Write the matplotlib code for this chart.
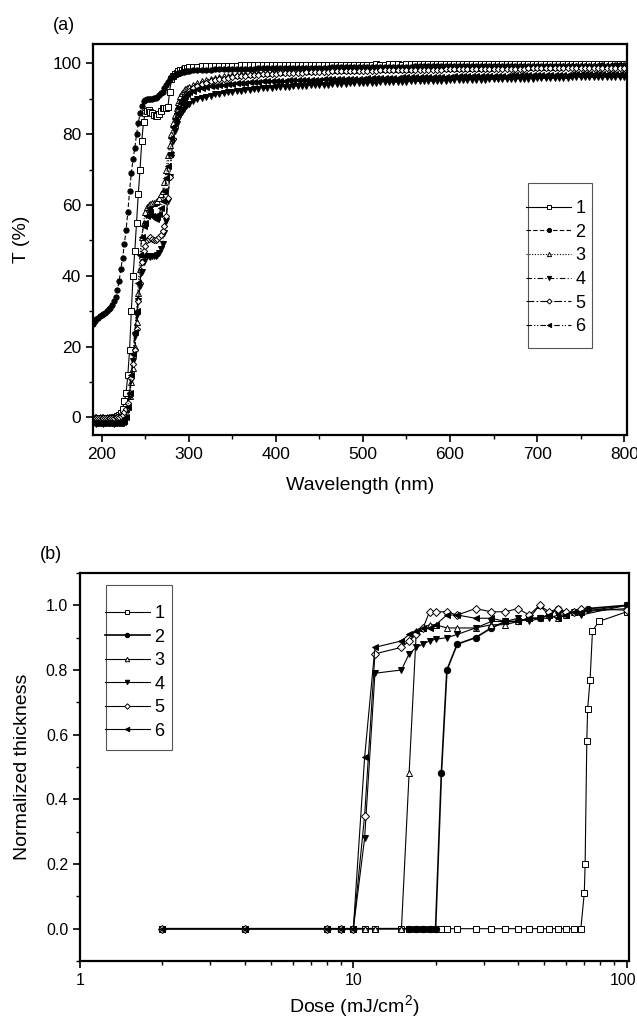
import matplotlib
matplotlib.use("Agg")
import matplotlib.pyplot as plt
import matplotlib.transforms as mtransforms
from matplotlib.patches import Rectangle
from matplotlib.ticker import MultipleLocator, LogLocator, NullFormatter, FixedLocator, FixedFormatter

plt.rcParams['font.family'] = ['Liberation Sans', 'DejaVu Sans']
plt.rcParams['mathtext.default'] = 'regular'

# ---- panel (a): transmission spectra ----
wl_low = [190, 192, 194, 196, 198, 200, 202, 204, 206, 208,
          210, 212, 214, 216, 218, 220, 222, 224, 226, 228,
          230, 232, 234, 236, 238, 240, 242, 244, 246, 248,
          250, 252, 254, 256, 258, 260, 262, 264, 266, 268,
          270, 272, 274, 276, 278, 280, 282, 284, 286, 288,
          290, 292, 294, 296, 298, 300]
wl_high = [305, 310, 315, 320, 325, 330, 335, 340, 345, 350,
           355, 360, 365, 370, 375, 380, 385, 390, 395, 400,
           405, 410, 415, 420, 425, 430, 435, 440, 445, 450,
           455, 460, 465, 470, 475, 480, 485, 490, 495, 500,
           505, 510, 515, 520, 525, 530, 535, 540, 545, 550,
           555, 560, 565, 570, 575, 580, 585, 590, 595, 600,
           605, 610, 615, 620, 625, 630, 635, 640, 645, 650,
           655, 660, 665, 670, 675, 680, 685, 690, 695, 700,
           705, 710, 715, 720, 725, 730, 735, 740, 745, 750,
           755, 760, 765, 770, 775, 780, 785, 790, 795, 800]

t1_low = [-0.3, -0.3, -0.3, -0.3, -0.3, -0.3, -0.2, -0.2, -0.2, -0.2,
          -0.2, -0.1, 0.0, 0.1, 0.3, 0.6, 1.2, 2.5, 4.5, 7.0,
          12.0, 19.0, 30.0, 40.0, 47.0, 55.0, 63.0, 70.0, 78.0, 83.5,
          86.0, 86.5, 86.7, 86.2, 86.0, 85.5, 85.2, 85.0, 85.8, 86.5,
          87.5, 87.5, 87.5, 87.6, 92.0, 95.5, 96.5, 97.0, 97.4, 97.7,
          98.0, 98.2, 98.4, 98.6, 98.8, 98.9]
t1_high = [99.0, 99.0, 99.1, 99.1, 99.2, 99.2, 99.2, 99.3, 99.3, 99.3,
           99.3, 99.4, 99.4, 99.4, 99.4, 99.4, 99.5, 99.5, 99.5, 99.5,
           99.5, 99.5, 99.5, 99.5, 99.6, 99.5, 99.5, 99.6, 99.6, 99.6,
           99.6, 99.6, 99.6, 99.6, 99.6, 99.6, 99.6, 99.6, 99.6, 99.6,
           99.6, 99.6, 99.7, 99.6, 99.6, 99.7, 99.7, 99.7, 99.6, 99.7,
           99.7, 99.7, 99.7, 99.7, 99.7, 99.7, 99.7, 99.7, 99.7, 99.7,
           99.7, 99.7, 99.7, 99.8, 99.7, 99.7, 99.7, 99.7, 99.8, 99.7,
           99.7, 99.8, 99.8, 99.7, 99.8, 99.8, 99.8, 99.8, 99.8, 99.8,
           99.8, 99.8, 99.8, 99.8, 99.8, 99.8, 99.8, 99.8, 99.9, 99.8,
           99.8, 99.8, 99.8, 99.9, 99.8, 99.8, 99.9, 99.8, 99.8, 99.9]

t2_low = [26.5, 27.2, 27.8, 28.2, 28.6, 29.0, 29.3, 29.6, 30.0, 30.5,
          31.0, 31.8, 33.0, 34.0, 36.0, 38.5, 42.0, 45.0, 49.0, 53.0,
          58.0, 64.0, 69.0, 73.0, 76.0, 80.0, 83.0, 86.0, 88.0, 89.3,
          89.6, 89.8, 89.9, 90.0, 90.0, 90.2, 90.3, 90.5, 91.0, 91.5,
          92.0, 93.0, 94.0, 94.8, 95.5, 96.0, 96.4, 96.7, 97.0, 97.2,
          97.4, 97.5, 97.6, 97.7, 97.8, 97.9]
t2_high = [98.0, 98.1, 98.1, 98.2, 98.2, 98.3, 98.3, 98.3, 98.4, 98.4,
           98.4, 98.5, 98.5, 98.5, 98.5, 98.6, 98.6, 98.6, 98.6, 98.6,
           98.7, 98.7, 98.7, 98.7, 98.7, 98.8, 98.8, 98.8, 98.8, 98.8,
           98.8, 98.8, 98.9, 98.9, 98.9, 98.9, 98.9, 98.9, 98.9, 98.9,
           99.0, 99.0, 99.0, 99.0, 99.0, 99.0, 99.0, 99.0, 99.0, 99.0,
           99.0, 99.1, 99.1, 99.1, 99.1, 99.1, 99.1, 99.1, 99.1, 99.1,
           99.1, 99.1, 99.1, 99.1, 99.2, 99.2, 99.2, 99.2, 99.2, 99.2,
           99.2, 99.2, 99.2, 99.2, 99.2, 99.2, 99.2, 99.2, 99.3, 99.3,
           99.3, 99.3, 99.3, 99.3, 99.3, 99.3, 99.3, 99.3, 99.3, 99.3,
           99.3, 99.3, 99.3, 99.3, 99.4, 99.3, 99.3, 99.4, 99.4, 99.4]

t3_low = [-0.1, 0.0, 0.0, -0.1, 0.0, 0.0, 0.0, -0.1, 0.0, 0.0,
          0.0, 0.0, 0.1, 0.1, 0.2, 0.3, 0.5, 0.8, 1.5, 2.5,
          3.5, 6.0, 10.0, 14.0, 20.0, 27.0, 35.0, 42.0, 51.0, 55.0,
          58.0, 59.5, 60.0, 60.3, 60.5, 60.5, 60.8, 61.0, 62.0, 63.0,
          64.0, 66.5, 70.0, 74.0, 77.0, 80.0, 83.0, 85.5, 87.5, 89.2,
          90.7, 91.5, 92.1, 92.6, 93.0, 93.4]
t3_high = [94.0, 94.5, 94.9, 95.3, 95.6, 95.9, 96.1, 96.3, 96.5, 96.7,
           96.8, 96.9, 97.0, 97.1, 97.2, 97.3, 97.4, 97.4, 97.5, 97.6,
           97.6, 97.7, 97.7, 97.8, 97.8, 97.9, 97.9, 97.9, 98.0, 98.0,
           98.0, 98.1, 98.1, 98.1, 98.2, 98.2, 98.2, 98.2, 98.3, 98.3,
           98.3, 98.3, 98.4, 98.4, 98.4, 98.4, 98.5, 98.5, 98.5, 98.5,
           98.5, 98.6, 98.6, 98.6, 98.6, 98.6, 98.7, 98.7, 98.7, 98.7,
           98.7, 98.7, 98.8, 98.8, 98.8, 98.8, 98.8, 98.8, 98.8, 98.9,
           98.9, 98.9, 98.9, 98.9, 98.9, 98.9, 99.0, 99.0, 99.0, 99.0,
           99.0, 99.0, 99.0, 99.0, 99.0, 99.1, 99.1, 99.1, 99.1, 99.1,
           99.1, 99.1, 99.1, 99.1, 99.2, 99.2, 99.2, 99.2, 99.2, 99.2]

t4_low = [-1.7, -1.7, -1.8, -1.7, -1.7, -1.7, -1.8, -1.7, -1.7, -1.7,
          -1.7, -1.7, -1.8, -1.7, -1.7, -1.7, -1.6, -1.5, -1.2, -0.5,
          2.0, 6.0, 10.5, 16.0, 23.0, 29.0, 33.0, 37.0, 41.0, 44.0,
          45.5, 45.5, 45.5, 45.3, 45.5, 45.5, 45.5, 45.8, 46.5, 47.5,
          49.0, 52.0, 55.5, 61.0, 68.0, 74.0, 78.0, 80.8, 82.8, 84.2,
          85.3, 86.2, 87.0, 87.6, 88.1, 88.6]
t4_high = [89.3, 89.8, 90.2, 90.6, 90.9, 91.2, 91.4, 91.6, 91.8, 92.0,
           92.1, 92.3, 92.4, 92.5, 92.6, 92.8, 92.9, 93.0, 93.1, 93.2,
           93.3, 93.3, 93.4, 93.5, 93.6, 93.6, 93.7, 93.8, 93.8, 93.9,
           93.9, 94.0, 94.1, 94.1, 94.2, 94.2, 94.3, 94.3, 94.4, 94.4,
           94.5, 94.5, 94.5, 94.6, 94.6, 94.7, 94.7, 94.7, 94.8, 94.8,
           94.9, 94.9, 94.9, 95.0, 95.0, 95.0, 95.1, 95.1, 95.1, 95.2,
           95.2, 95.2, 95.3, 95.3, 95.3, 95.4, 95.4, 95.4, 95.5, 95.5,
           95.5, 95.5, 95.6, 95.6, 95.6, 95.7, 95.7, 95.7, 95.7, 95.8,
           95.8, 95.8, 95.8, 95.9, 95.9, 95.9, 95.9, 96.0, 96.0, 96.0,
           96.0, 96.0, 96.1, 96.1, 96.1, 96.1, 96.2, 96.2, 96.2, 96.2]

t5_low = [-0.2, -0.2, -0.1, -0.2, -0.2, -0.2, -0.1, -0.2, -0.2, -0.1,
          -0.2, -0.2, -0.1, 0.0, 0.0, 0.2, 0.4, 0.8, 1.5, 2.5,
          4.0, 7.0, 11.0, 15.0, 19.0, 25.0, 33.0, 38.0, 44.0, 47.0,
          48.5, 50.0, 50.5, 51.0, 50.5, 50.0, 50.0, 50.5, 51.0, 51.5,
          52.5, 54.0, 57.0, 62.0, 68.0, 74.0, 78.5, 82.0, 84.5, 86.5,
          88.0, 89.2, 90.2, 91.0, 91.7, 92.2]
t5_high = [93.0, 93.6, 94.1, 94.5, 94.9, 95.2, 95.5, 95.7, 95.9, 96.1,
           96.3, 96.4, 96.5, 96.6, 96.7, 96.8, 96.9, 97.0, 97.1, 97.1,
           97.2, 97.2, 97.3, 97.3, 97.4, 97.4, 97.5, 97.5, 97.5, 97.6,
           97.6, 97.6, 97.7, 97.7, 97.7, 97.8, 97.8, 97.8, 97.8, 97.9,
           97.9, 97.9, 97.9, 98.0, 98.0, 98.0, 98.0, 98.0, 98.1, 98.1,
           98.1, 98.1, 98.1, 98.2, 98.2, 98.2, 98.2, 98.2, 98.3, 98.3,
           98.3, 98.3, 98.3, 98.3, 98.4, 98.4, 98.4, 98.4, 98.4, 98.4,
           98.5, 98.5, 98.5, 98.5, 98.5, 98.5, 98.5, 98.6, 98.6, 98.6,
           98.6, 98.6, 98.6, 98.6, 98.7, 98.7, 98.7, 98.7, 98.7, 98.7,
           98.7, 98.7, 98.8, 98.8, 98.8, 98.8, 98.8, 98.8, 98.8, 98.8]

t6_low = [-1.6, -1.6, -1.7, -1.6, -1.6, -1.6, -1.7, -1.6, -1.6, -1.6,
          -1.6, -1.6, -1.6, -1.7, -1.6, -1.6, -1.5, -1.3, -1.0, 0.0,
          3.0, 7.0, 12.0, 18.0, 24.0, 30.0, 38.0, 46.0, 51.0, 54.0,
          55.0, 57.0, 58.5, 58.0, 57.0, 56.5, 56.0, 56.5, 57.5, 59.0,
          61.0, 64.0, 67.5, 71.0, 74.5, 79.0, 82.0, 84.2, 86.0, 87.5,
          88.7, 89.6, 90.3, 90.9, 91.4, 91.8]
t6_high = [92.3, 92.7, 93.0, 93.3, 93.5, 93.7, 93.9, 94.0, 94.1, 94.2,
           94.3, 94.4, 94.5, 94.6, 94.7, 94.8, 94.9, 94.9, 95.0, 95.0,
           95.1, 95.1, 95.2, 95.2, 95.3, 95.3, 95.3, 95.4, 95.4, 95.4,
           95.5, 95.5, 95.5, 95.6, 95.6, 95.6, 95.6, 95.7, 95.7, 95.7,
           95.8, 95.8, 95.8, 95.8, 95.9, 95.9, 95.9, 95.9, 96.0, 96.0,
           96.0, 96.0, 96.1, 96.1, 96.1, 96.1, 96.2, 96.2, 96.2, 96.2,
           96.3, 96.3, 96.3, 96.3, 96.4, 96.4, 96.4, 96.4, 96.5, 96.5,
           96.5, 96.5, 96.5, 96.6, 96.6, 96.6, 96.6, 96.7, 96.7, 96.7,
           96.7, 96.7, 96.8, 96.8, 96.8, 96.8, 96.8, 96.9, 96.9, 96.9,
           96.9, 96.9, 96.9, 97.0, 97.0, 97.0, 97.0, 97.0, 97.0, 97.1]

# ---- panel (b): normalized thickness vs dose ----
dose_1 = [2, 4, 8, 9, 10, 11, 12, 15, 16, 17, 18, 19, 20, 21, 22, 24, 28, 32,
          36, 40, 44, 48, 52, 56, 60, 64, 68, 70, 70.5, 71.5, 72, 73.5, 75, 79, 100]
thick_1 = [0, 0, 0, 0, 0, 0, 0, 0, 0, 0, 0, 0, 0, 0, 0, 0, 0, 0,
           0, 0, 0, 0, 0, 0, 0, 0, 0, 0.11, 0.20, 0.58, 0.68, 0.77, 0.92, 0.95, 0.98]
dose_2 = [2, 4, 8, 9, 10, 16, 17, 18, 19, 20, 21, 22, 24, 28, 32, 36, 40, 44,
          48, 52, 56, 60, 64, 68, 72, 100]
thick_2 = [0, 0, 0, 0, 0, 0, 0, 0, 0, 0, 0.48, 0.80, 0.88, 0.90, 0.93, 0.95, 0.95, 0.96,
           0.96, 0.97, 0.99, 0.97, 0.98, 0.98, 0.99, 1.0]
dose_3 = [2, 4, 8, 9, 10, 11, 12, 15, 16, 17, 18, 19, 20, 22, 24, 28, 32, 36,
          40, 44, 48, 52, 56, 60, 64, 68, 100]
thick_3 = [0, 0, 0, 0, 0, 0, 0, 0, 0.48, 0.92, 0.93, 0.94, 0.94, 0.93, 0.93, 0.93, 0.94, 0.94,
           0.95, 0.96, 1.0, 0.97, 0.96, 0.97, 0.98, 0.98, 0.99]
dose_456 = [2, 4, 8, 9, 10, 11, 12, 15, 16, 17, 18, 19, 20, 22, 24, 28, 32, 36,
            40, 44, 48, 52, 56, 60, 64, 68, 100]
thick_4 = [0, 0, 0, 0, 0, 0.28, 0.79, 0.80, 0.85, 0.87, 0.88, 0.89, 0.895, 0.90, 0.91, 0.93, 0.95, 0.95,
           0.96, 0.95, 0.96, 0.96, 0.97, 0.97, 0.98, 0.97, 1.0]
thick_5 = [0, 0, 0, 0, 0, 0.35, 0.85, 0.87, 0.89, 0.91, 0.93, 0.98, 0.98, 0.98, 0.97, 0.99, 0.98, 0.98,
           0.99, 0.97, 1.0, 0.98, 0.99, 0.98, 0.98, 0.99, 0.985]
thick_6 = [0, 0, 0, 0, 0, 0.53, 0.87, 0.89, 0.91, 0.92, 0.93, 0.93, 0.94, 0.97, 0.97, 0.96, 0.96, 0.95,
           0.95, 0.96, 0.96, 0.97, 0.96, 0.97, 0.98, 0.98, 1.0]

labels = ["1", "2", "3", "4", "5", "6"]

fig = plt.figure(figsize=(6.37, 10.19), dpi=100)
ax1 = fig.add_axes([0.146, 0.573, 0.838, 0.384])
ax2 = fig.add_axes([0.1256, 0.0569, 0.8618, 0.3808])

# marker, face, linestyle
styles_a = [
    ('s', 'white', '-'),
    ('o', 'black', (0, (4, 2))),
    ('^', 'white', (0, (1, 1.5))),
    ('v', 'black', (0, (5, 2, 1, 2))),
    ('D', 'white', (0, (7, 2, 1.5, 2))),
    ('<', 'black', (0, (5, 2, 1, 1.5, 1, 2))),
]
spectra = [
    (t1_low, t1_high), (t2_low, t2_high), (t3_low, t3_high),
    (t4_low, t4_high), (t5_low, t5_high), (t6_low, t6_high),
]

wl = wl_low + wl_high
for (lo, hi), (mk, fc, ls), lab in zip(spectra, styles_a, labels):
    ms = 3.2 if mk == 'D' else 3.8
    ax1.plot(wl, lo + hi, color='black', lw=0.8, ls=ls, marker=mk, ms=ms,
             mfc=fc, mec='black', mew=0.7, label=lab)

ax1.set_xlim(190, 803)
ax1.set_ylim(-5, 105.5)
ax1.xaxis.set_major_locator(MultipleLocator(100))
ax1.xaxis.set_minor_locator(MultipleLocator(50))
ax1.yaxis.set_major_locator(MultipleLocator(20))
ax1.yaxis.set_minor_locator(MultipleLocator(10))
ax1.set_xlabel("Wavelength (nm)", fontsize=14)
ax1.set_ylabel("T (%)", fontsize=14)
ax1.xaxis.set_label_coords(0.5, -0.108)
ax1.yaxis.set_label_coords(-0.118, 0.5)

# legend box drawn by hand so its size follows the reference
ax1.add_patch(Rectangle((0.8146, 0.2225), 0.12, 0.422, transform=ax1.transAxes,
                        fill=False, ec='#555555', lw=0.8, zorder=5))
ax1.legend(loc='upper left', bbox_to_anchor=(0.812, 0.601), fontsize=13,
           frameon=False, handlelength=2.45, handletextpad=0.25,
           labelspacing=0.37, borderpad=0, borderaxespad=0, markerscale=0.8)
fig.text(0.083, 0.975, "(a)", fontsize=13, va='center')

# panel (b)
styles_b = [
    ('s', 'white', 0.8),
    ('o', 'black', 1.2),
    ('^', 'white', 0.8),
    ('v', 'black', 0.8),
    ('D', 'white', 0.8),
    ('<', 'black', 0.8),
]
series_b = [
    (dose_1, thick_1), (dose_2, thick_2), (dose_3, thick_3),
    (dose_456, thick_4), (dose_456, thick_5), (dose_456, thick_6),
]
for (x, y), (mk, fc, lw), lab in zip(series_b, styles_b, labels):
    ms = 4.0 if mk == 'D' else 4.6
    ax2.plot(x, y, color='black', lw=lw, ls='-', marker=mk, ms=ms,
             mfc=fc, mec='black', mew=0.7, label=lab)

ax2.set_xscale('log')
ax2.set_xlim(1, 102)
ax2.set_ylim(-0.1, 1.1)
ax2.xaxis.set_major_locator(FixedLocator([1, 10, 100]))
ax2.xaxis.set_major_formatter(FixedFormatter(["1", "10", "100"]))
ax2.xaxis.set_minor_locator(LogLocator(base=10, subs=(2, 3, 4, 5, 6, 7, 8, 9)))
ax2.xaxis.set_minor_formatter(NullFormatter())
ax2.yaxis.set_major_locator(MultipleLocator(0.2))
ax2.yaxis.set_minor_locator(MultipleLocator(0.1))
ax2.yaxis.set_major_formatter(plt.FuncFormatter(lambda v, p: "%.1f" % v))
ax2.set_xlabel("Dose (mJ/cm$^{2}$)", fontsize=14)
ax2.set_ylabel("Normalized thickness", fontsize=14)
ax2.xaxis.set_label_coords(0.5, -0.082)
ax2.yaxis.set_label_coords(-0.089, 0.5)

# box spans x 106-172 px, y 587-752 px
ax2.add_patch(Rectangle((0.0474, 0.5438), 0.1202, 0.4253, transform=ax2.transAxes,
                        fill=False, ec='#555555', lw=0.8, zorder=5))
ax2.legend(loc='upper left', bbox_to_anchor=(0.045, 0.917), fontsize=13,
           frameon=False, handlelength=2.5, handletextpad=0.25,
           labelspacing=0.36, borderpad=0, borderaxespad=0, markerscale=0.7)
fig.text(0.063, 0.456, "(b)", fontsize=13, va='center')

for ax, ls in ((ax1, 12.5), (ax2, 11.5)):
    for sp in ax.spines.values():
        sp.set_linewidth(1.6)
    ax.tick_params(which='major', direction='out', length=5, width=1.2,
                   labelsize=ls, top=False, right=False)
    ax.tick_params(which='minor', direction='out', length=3, width=1.0,
                   top=False, right=False)

# keep the "100" dose label inside the picture
fig.canvas.draw()
last = ax2.get_xticklabels()[-1]
last.set_horizontalalignment('right')
last.set_transform(last.get_transform() +
                   mtransforms.ScaledTranslation(0.1, 0, fig.dpi_scale_trans))

fig.savefig("out.png", dpi=100)
